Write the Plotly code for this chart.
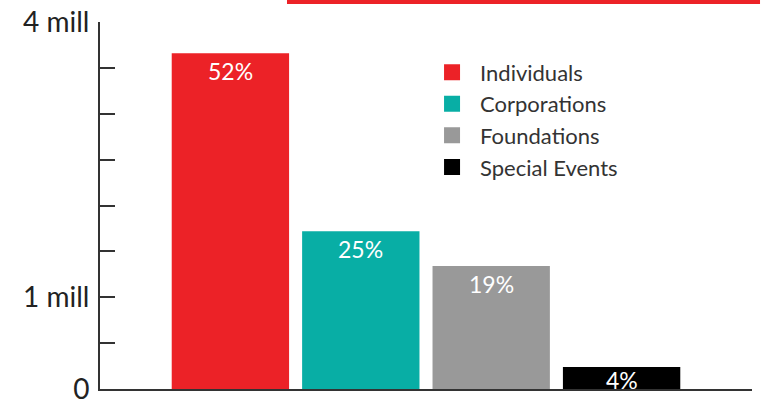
import plotly.graph_objects as go

categories = ["Individuals", "Corporations", "Foundations", "Special Events"]
amounts = [3.66e6, 1.72e6, 1.34e6, 0.24e6]
percents = ["52%", "25%", "19%", "4%"]
colors = ["#EC2227", "#08AEA5", "#999999", "#000000"]

y_tickvals = [0, 0.5e6, 1e6, 1.5e6, 2e6, 2.5e6, 3e6, 3.5e6, 4e6]
y_ticktext = ["0", "", "1 mill", "", "", "", "", "", "4 mill"]

FONT = "Lato, 'Open Sans', sans-serif"
Y_MAX = 4e6
PLOT_H = 400 - 22 - 11
LABEL_H = 30  # approx px height of a bar label box

fig = go.Figure()
fig.add_trace(go.Bar(
    x=list(range(len(categories))), y=amounts, width=0.9,
    marker=dict(color=colors, line=dict(width=0)),
    showlegend=False, hoverinfo="skip",
))
for name, c in zip(categories, colors):
    fig.add_trace(go.Scatter(
        x=[None], y=[None], mode="markers", name=name,
        marker=dict(symbol="square", size=18, color=c),
    ))

# value labels inside the top of each bar (bottom-aligned if bar is too short)
for i, (amt, pct) in enumerate(zip(amounts, percents)):
    bar_px = amt / Y_MAX * PLOT_H
    if bar_px >= LABEL_H:
        fig.add_annotation(x=i, y=amt, yanchor="top", yshift=-2, text=pct,
                           showarrow=False,
                           font=dict(family=FONT, size=23, color="white"))
    else:
        fig.add_annotation(x=i, y=0, yanchor="bottom", yshift=-7, text=pct,
                           showarrow=False,
                           font=dict(family=FONT, size=23, color="white"))

fig.update_layout(
    width=763, height=400,
    margin=dict(l=100, r=11, t=22, b=11, autoexpand=False),
    plot_bgcolor="white", paper_bgcolor="white",
    font=dict(family=FONT, color="#222222"),
    legend=dict(x=0.497, y=0.92, xanchor="left", yanchor="top",
                font=dict(family=FONT, size=22, color="#333333"),
                bgcolor="rgba(0,0,0,0)", itemsizing="trace", itemwidth=46),
    xaxis=dict(range=[-1, 4], showgrid=False, zeroline=False,
               showline=True, linecolor="#333333", linewidth=2,
               tickvals=[4], ticks="inside", ticklen=7, tickwidth=2,
               tickcolor="#333333", showticklabels=False, automargin=False),
    yaxis=dict(range=[0, Y_MAX], showgrid=False, zeroline=False,
               showline=True, linecolor="#333333", linewidth=2,
               tickvals=y_tickvals, ticktext=y_ticktext,
               ticks="inside", ticklen=15, tickwidth=2, tickcolor="#333333",
               ticklabelstandoff=3, automargin=False, ticklabeloverflow="allow",
               tickfont=dict(family=FONT, size=28, color="#222222")),
    shapes=[dict(type="line", xref="paper", yref="paper",
                 x0=0.2868, x1=1.0123, y0=1.056, y1=1.056,
                 line=dict(color="#EC2227", width=5))],
)

fig.write_html("out.html", config={"displayModeBar": False},
               post_script="document.body.style.margin='0';")
